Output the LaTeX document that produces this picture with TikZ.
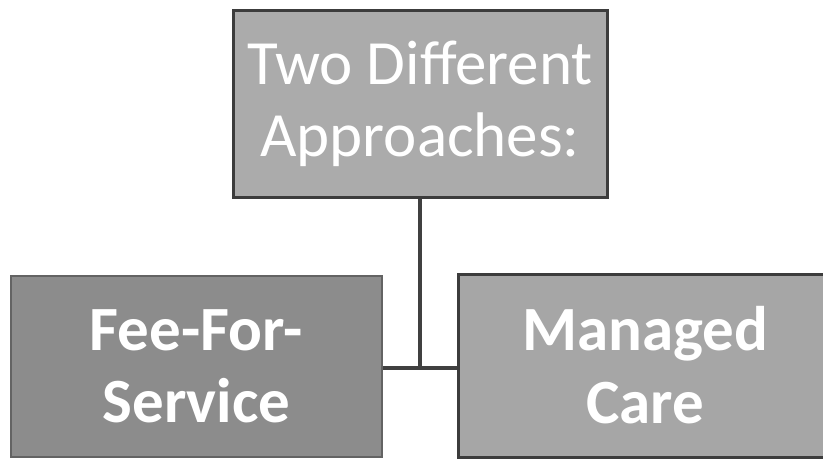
\documentclass[tikz,border=0pt]{standalone}
\usepackage{fontspec}
\setmainfont{Carlito}
\definecolor{borderdark}{HTML}{3C3C3C}
\definecolor{topfill}{HTML}{ABABAB}
\definecolor{leftfill}{HTML}{8C8C8C}
\definecolor{rightfill}{HTML}{A6A6A6}
\definecolor{linecol}{HTML}{404040}
\tikzset{
  boxbase/.style={draw=borderdark, line width=3pt, text=white, align=center, inner sep=0pt},
  topbox/.style={boxbase, fill=topfill, minimum width=374pt, minimum height=187pt,
    font=\fontsize{63}{72}\selectfont},
  leftbox/.style={boxbase, fill=leftfill, draw=borderdark!80, line width=2.5pt,
    minimum width=371pt, minimum height=181pt, font=\fontsize{63}{72}\selectfont\bfseries},
  rightbox/.style={boxbase, fill=rightfill, minimum width=374pt, minimum height=183pt,
    font=\fontsize{63}{73}\selectfont\bfseries},
  conn/.style={draw=linecol, line width=3.5pt}
}
\begin{document}
\begin{tikzpicture}[x=1pt, y=-1pt]
\useasboundingbox (0,0) rectangle (823,459);
\clip (0,0) rectangle (823,459);
\node[topbox] (top) at (420,103.5) {Two Different\\Approaches:};
\node[leftbox] (left) at (196.5,366.5) {Fee-For-\\Service};
\node[rightbox] (right) at (645,365.5) {Managed\\Care};
\coordinate (j) at (421,368);
\draw[conn] (top.south) -- (top.south |- j);
\draw[conn] (left.east |- j) -- (right.west |- j);
\end{tikzpicture}
\end{document}
